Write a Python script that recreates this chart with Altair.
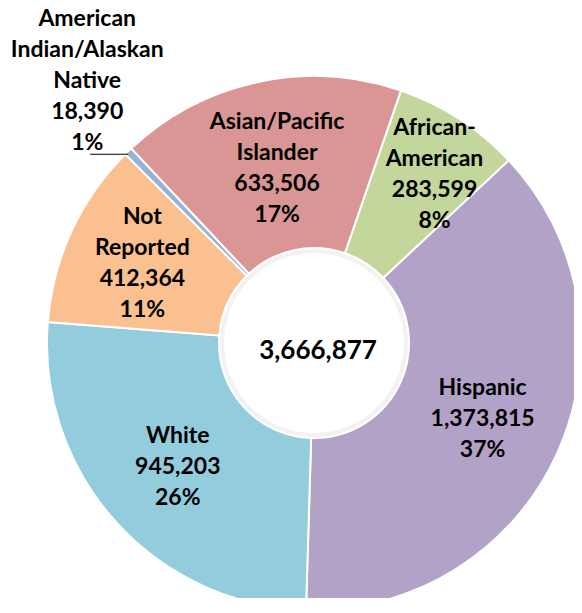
import math
import altair as alt
import pandas as pd

# ---- data (clockwise from the first slice) ----
groups = ["African-American", "Hispanic", "White", "Not Reported",
          "American Indian/Alaskan Native", "Asian/Pacific Islander"]
label_names = ["African-\nAmerican", "Hispanic", "White", "Not\nReported",
               "American\nIndian/Alaskan\nNative", "Asian/Pacific\nIslander"]
counts = [283599, 1373815, 945203, 412364, 18390, 633506]
colors = ["#C3D69B", "#B3A2C7", "#93CDDD", "#FAC090", "#95B3D7", "#D99694"]

# ---- layout ----
CX, CY = 306, 335          # donut centre inside the plot area
R_OUT, R_IN = 267, 95
START = math.radians(19)   # angle of the first slice edge
label_radius = [207, 185, 183, 189, 346, 181]
label_nudge = [(8, 5), (0, 0), (0, 2), (0, 0), (14, -14), (1, 2)]
OUTSIDE = 4                # index of the label placed outside with a leader
FONT = "Lato"
LH = 31

total = sum(counts)
pcts = [round(c / total * 100) for c in counts]
texts = [f"{n}\n{c:,}\n{p}%" for n, c, p in zip(label_names, counts, pcts)]
df = pd.DataFrame({
    "group": groups,
    "count": counts,
    "idx": list(range(len(groups))),
    "label": texts,
    "lr": label_radius,
})

theta_scale = alt.Scale(domain=[0, total], range=[START, START + 2 * math.pi])

base = alt.Chart(df).transform_window(
    cum_end="sum(count)", sort=[alt.SortField("idx")], frame=[None, 0]
).transform_calculate(
    cum_start="datum.cum_end - datum.count",
    cum_mid="datum.cum_end - datum.count / 2",
)

arcs = base.mark_arc(radius=R_OUT, radius2=R_IN, stroke="white", strokeWidth=2).encode(
    theta=alt.Theta("cum_start:Q", scale=theta_scale),
    theta2="cum_end:Q",
    color=alt.Color("group:N", scale=alt.Scale(domain=groups, range=colors), legend=None),
    x=alt.value(CX), y=alt.value(CY),
)

# soft shadow at the rim of the centre hole
hole_shadow = alt.Chart(pd.DataFrame({"v": [1]})).mark_arc(
    radius=R_IN - 1, radius2=R_IN - 5, color="#000000", opacity=0.05,
    theta=0, theta2=2 * math.pi,
).encode(x=alt.value(CX), y=alt.value(CY))

text_kw = dict(font=FONT, fontSize=23, fontWeight="bold", lineBreak="\n",
               lineHeight=LH, align="center", baseline="middle", color="black")

label_layers = []
for i in range(len(groups)):
    n = texts[i].count("\n") + 1
    ndx, ndy = label_nudge[i]
    dy = -(n - 1) * LH / 2 + ndy
    label_layers.append(
        base.transform_filter(alt.datum.idx == i).mark_text(dx=ndx, dy=dy, **text_kw).encode(
            theta=alt.Theta("cum_mid:Q", scale=theta_scale),
            radius=alt.Radius("lr:Q", scale=None),
            text="label:N",
            x=alt.value(CX), y=alt.value(CY),
        )
    )

# leader line for the small slice, from its outer edge to the label
cum = sum(counts[:OUTSIDE]) + counts[OUTSIDE] / 2
ang = START + cum / total * 2 * math.pi
ex = CX + R_OUT * math.sin(ang)
ey = CY - R_OUT * math.cos(ang) + 3
leader_df = pd.DataFrame({"x1": [ex - 38], "x2": [ex], "y": [ey]})
leader = alt.Chart(leader_df).mark_rule(color="black", strokeWidth=1.2).encode(
    x=alt.X("x1:Q", scale=None), x2="x2:Q", y=alt.Y("y:Q", scale=None)
)

center_df = pd.DataFrame({"t": [f"{total:,}"]})
center = alt.Chart(center_df).mark_text(
    font=FONT, fontSize=26, fontWeight="bold", align="center", baseline="middle", color="black"
).encode(text="t:N", x=alt.value(CX + 4), y=alt.value(CY + 8))

chart = alt.layer(arcs, hole_shadow, *label_layers, leader, center).properties(
    width=566, height=590,
    autosize=alt.AutoSizeParams(type="none"),
    padding={"left": 0, "top": 0, "right": 0, "bottom": 0},
).configure_view(stroke=None)

chart.save("out.html", embed_options={"renderer": "svg", "actions": False})
